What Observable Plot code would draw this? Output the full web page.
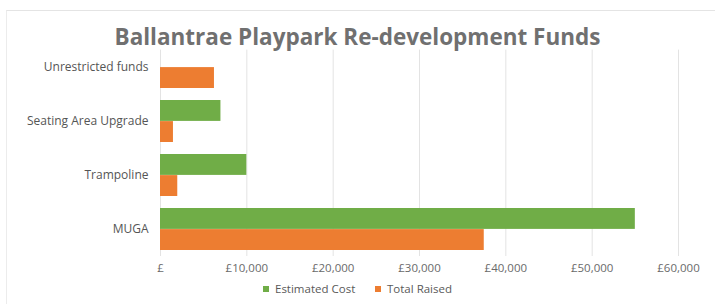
<!DOCTYPE html>
<html>
<head>
<meta charset="utf-8">
<script src="https://cdn.jsdelivr.net/npm/d3@7"></script>
<script src="https://cdn.jsdelivr.net/npm/@observablehq/plot@0.6"></script>
<style>
  html, body { margin: 0; padding: 0; background: #fff; }
  #wrap { position: relative; width: 715px; height: 304px; overflow: hidden; font-family: "Open Sans", sans-serif; }
  #frame { position: absolute; left: 6px; top: 10px; width: 740px; height: 320px; border-top: 1px solid #e4e4e4; border-left: 1px solid #ececec; }
  #title { position: absolute; left: 0; width: 715px; top: 21px; text-align: center; font-size: 22.5px; font-weight: 700; color: #707070; line-height: 32px; }
  #chart { position: absolute; left: 0; top: 0; }
  #legend { position: absolute; top: 281px; left: 0; width: 715px; font-size: 11.5px; color: #595959; }
  .li { position: absolute; top: 0; line-height: 16px; white-space: nowrap; }
  .sw { display: inline-block; width: 6px; height: 6px; margin-right: 6px; vertical-align: 1px; }
</style>
</head>
<body>
<div id="wrap">
  <div id="frame"></div>
  <div id="chart"></div>
  <div id="title">Ballantrae Playpark Re-development Funds</div>
  <div id="legend"></div>
</div>
<script>
const categories = ["Unrestricted funds", "Seating Area Upgrade", "Trampoline", "MUGA"];
const estimatedCost = [null, 7000, 10000, 55000];
const totalRaised = [6250, 1500, 2000, 37500];
const seriesNames = ["Estimated Cost", "Total Raised"];
const seriesColors = ["#70AD47", "#ED7D31"];
const xTicks = [0, 10000, 20000, 30000, 40000, 50000, 60000];

const costRows = categories.map((c, i) => ({category: c, value: estimatedCost[i]})).filter(d => d.value != null);
const raisedRows = categories.map((c, i) => ({category: c, value: totalRaised[i]})).filter(d => d.value != null);

const fmt = v => v === 0 ? "£" : "£" + d3.format(",")(v);

const chart = Plot.plot({
  width: 715,
  height: 280,
  marginLeft: 160,
  marginRight: 37,
  marginTop: 39.6,
  marginBottom: 24,
  style: {fontFamily: "Open Sans, sans-serif", background: "transparent"},
  x: {domain: [0, 60000], ticks: xTicks, tickFormat: fmt, label: null},
  y: {domain: categories, paddingInner: 0.22, paddingOuter: 0.11, label: null},
  marks: [
    Plot.ruleX(xTicks, {x: d => d, stroke: "#e3e3e3", strokeWidth: 1, insetTop: 10}),
    Plot.barX(costRows, {y: "category", x: "value", fill: seriesColors[0], insetBottom: 21.1, insetTop: 0}),
    Plot.barX(raisedRows, {y: "category", x: "value", fill: seriesColors[1], insetTop: 21.1, insetBottom: 0}),
    Plot.axisX({ticks: xTicks, tickFormat: fmt, tickSize: 0, tickPadding: 7, fontSize: 11.5, fill: "#6a6a6a", label: null}),
    Plot.axisY({tickSize: 0, tickPadding: 12, fontSize: 12, fill: "#555", label: null})
  ]
});
document.getElementById("chart").appendChild(chart);

const legend = document.getElementById("legend");
const legendX = [263, 375];
seriesNames.forEach((name, i) => {
  const el = document.createElement("div");
  el.className = "li";
  el.style.left = legendX[i] + "px";
  el.innerHTML = `<span class="sw" style="background:${seriesColors[i]}"></span>${name}`;
  legend.appendChild(el);
});
</script>
</body>
</html>
